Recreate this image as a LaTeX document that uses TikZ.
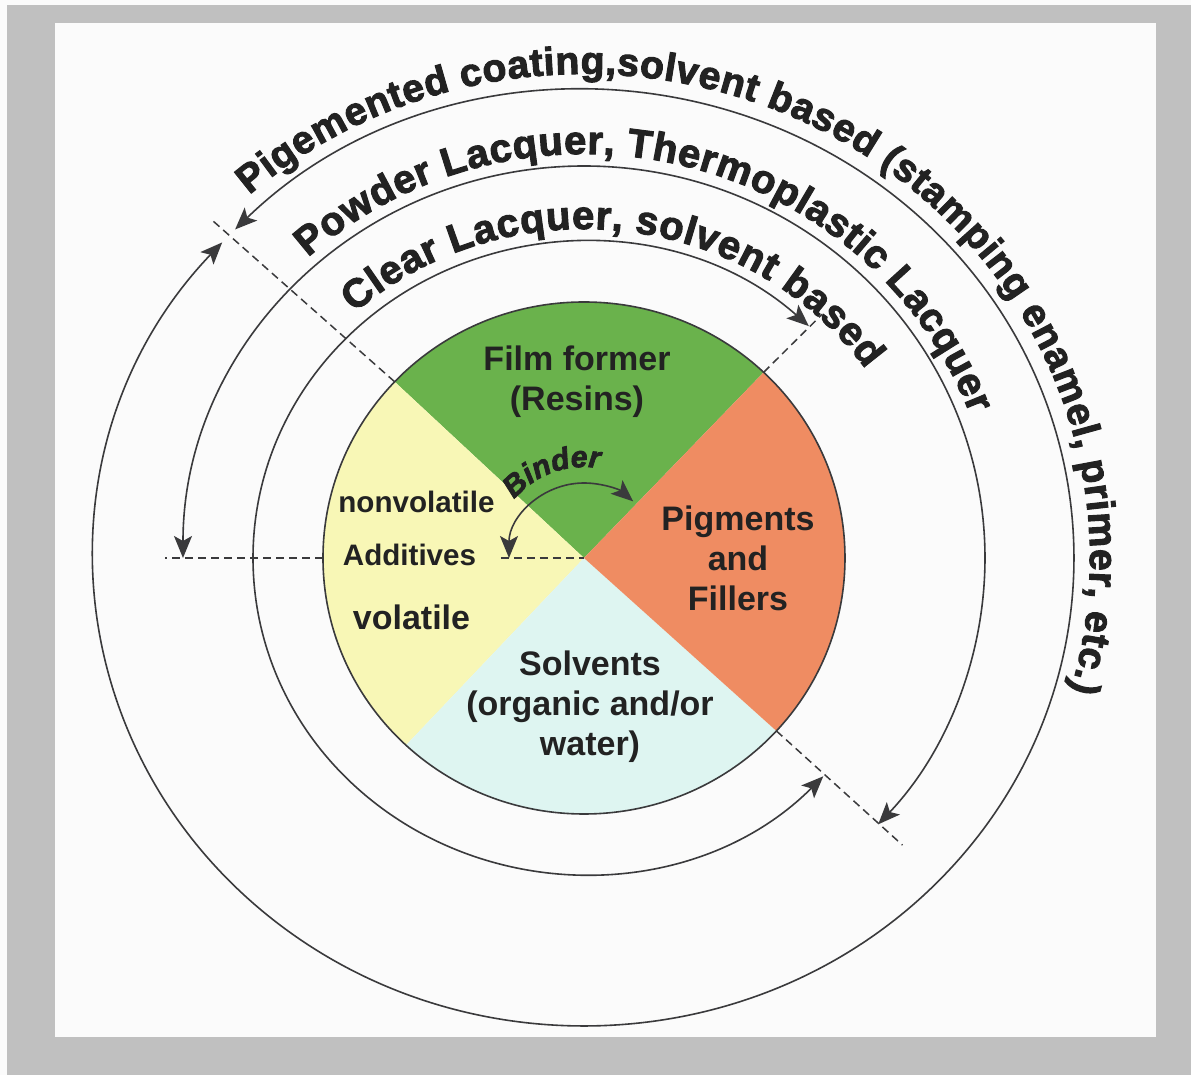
\documentclass[tikz,border=0pt]{standalone}
\usepackage{fontspec}
\setmainfont{Liberation Sans}
\newfontfamily\ringfont[FakeBold=2.5]{Liberation Sans Bold}
\newfontfamily\binderfont[FakeBold=2.5]{Liberation Sans Bold Italic}
\usepackage{xcolor}
\usepackage{tikz}
\usetikzlibrary{arrows.meta, decorations.text, calc}

\definecolor{framegray}{RGB}{192,192,192}
\definecolor{paper}{RGB}{251,251,251}
\definecolor{inkgray}{RGB}{58,58,60}
\definecolor{labelink}{RGB}{34,34,34}
\definecolor{filmgreen}{RGB}{106,178,76}
\definecolor{pigorange}{RGB}{239,140,98}
\definecolor{addyellow}{RGB}{248,247,182}
\definecolor{solvcyan}{RGB}{222,245,241}

\tikzset{
  ring/.style={draw=inkgray, line width=0.8pt},
  bothtips/.style={{Stealth[length=11pt,width=9pt,inset=2.5pt]}-{Stealth[length=11pt,width=9pt,inset=2.5pt]}},
  cutline/.style={draw=inkgray, line width=0.75pt, dash pattern=on 4pt off 2.5pt},
  pielabel/.style={text=labelink, align=center, font=\bfseries\fontsize{17}{20}\selectfont},
  addlabel/.style={text=labelink, font=\bfseries\fontsize{14.8}{18}\selectfont},
  ringtext/.style={decorate, decoration={text along path, text align=left, raise=#1, text color=labelink}},
}

\begin{document}
\begin{tikzpicture}[x=0.5pt, y=0.5pt]
  % Frame
  \useasboundingbox (-584,-517) rectangle (607,558);
  \fill[paper] (-584,-517) rectangle (607,558);
  \fill[framegray] (-577,-517) rectangle (607,553);
  \fill[paper] (-528.5,-479) rectangle (571.6,535);

  % Pie
  \coordinate (c) at (0,0);
  \fill[filmgreen] (c) -- (46.5:261 and 256) arc[start angle=46.5, end angle=136.5, x radius=261, y radius=256] -- cycle;
  \fill[addyellow] (c) -- (136.5:261 and 256) arc[start angle=136.5, end angle=227, x radius=261, y radius=256] -- cycle;
  \fill[solvcyan] (c) -- (227:261 and 256) arc[start angle=227, end angle=317.5, x radius=261, y radius=256] -- cycle;
  \fill[pigorange] (c) -- (317.5:261 and 256) arc[start angle=317.5, end angle=406.5, x radius=261, y radius=256] -- cycle;
  \draw[ring] (c) ellipse[x radius=261, y radius=256];

  % Cut lines
  \coordinate (cutA in) at (136.5:261 and 256);
  \coordinate (cutA out) at (136.5:514 and 492);
  \coordinate (cutB in) at (180:261 and 256);
  \coordinate (cutB out) at (-419,0);
  \coordinate (cutB mid) at (-83,0);
  \coordinate (cutC in) at (46.5:261 and 256);
  \coordinate (cutC out) at (46.5:346 and 336);
  \coordinate (cutD in) at (317.5:261 and 256);
  \coordinate (cutD out) at (317.5:432 and 425);
  \draw[cutline] (cutA in) -- (cutA out);
  \draw[cutline] (cutB in) -- (cutB out);
  \draw[cutline] (cutB mid) -- (c);
  \draw[cutline] (cutC in) -- (cutC out);
  \draw[cutline] (cutD in) -- (cutD out);

  % Rings
  \draw[ring, bothtips] (137.6:490 and 468) arc[start angle=137.6, end angle=495.4, x radius=490, y radius=468];
  \draw[ring, bothtips] (180:401 and 392) arc[start angle=180, end angle=-42.8, x radius=401, y radius=392];
  \draw[ring, bothtips] (47.2:331 and 316) arc[start angle=47.2, end angle=316.3, x radius=331, y radius=316];

  % Ring labels
  \path[ringtext=8pt, decoration={text={|\ringfont\fontsize{19.6}{19}\selectfont|Pigemented coating,solvent based (stamping enamel, primer, etc.)}}]
    (131.5:490 and 468) arc[start angle=131.5, end angle=-60, x radius=490, y radius=468];
  \path[ringtext=6pt, decoration={text={|\ringfont\fontsize{20}{19}\selectfont|Powder Lacquer, Thermoplastic Lacquer}}]
    (132:401 and 392) arc[start angle=132, end angle=-30, x radius=401, y radius=392];
  \path[ringtext=6.5pt, decoration={text={|\ringfont\fontsize{20}{19}\selectfont|Clear Lacquer, solvent based}}]
    (132:331 and 316) arc[start angle=132, end angle=0, x radius=331, y radius=316];

  % Binder
  \draw[ring, bothtips] (180:75) arc[start angle=180, end angle=49, radius=75];
  \path[ringtext=0pt, decoration={text={|\binderfont\fontsize{15}{15}\selectfont|Binder}}]
    (140:91) arc[start angle=140, end angle=40, radius=91];

  % Labels
  \node[pielabel] (film) at (-7,176) {Film former\\(Resins)};
  \node[pielabel] (pigments) at (154,0) {Pigments\\and\\Fillers};
  \node[pielabel] (solvents) at (6,-149) {Solvents\\(organic and/or\\water)};
  \node[addlabel] (nonvol) at (-167.5,56) {nonvolatile};
  \node[addlabel] (additives) at (-174.5,3) {Additives};
  \node[pielabel] (vol) at (-172.5,-59) {volatile};
\end{tikzpicture}
\end{document}
